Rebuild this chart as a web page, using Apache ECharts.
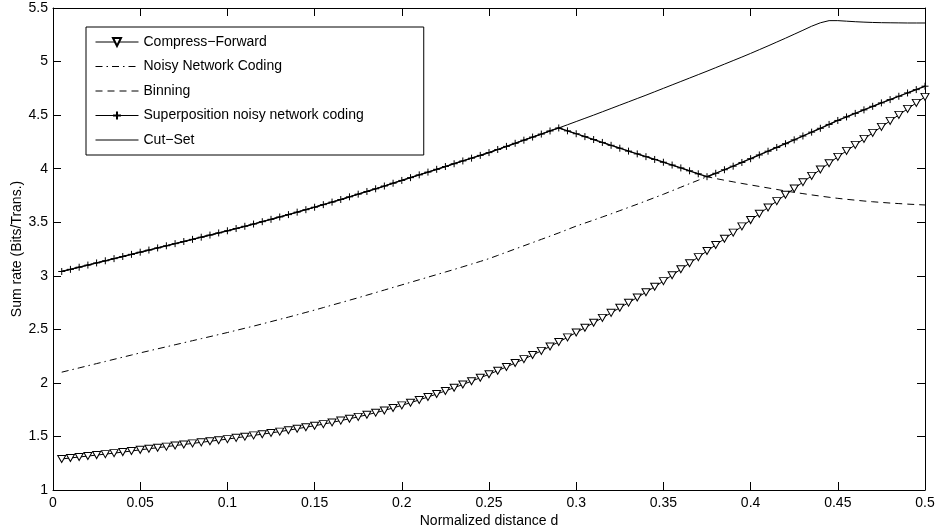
<!DOCTYPE html>
<html>
<head>
<meta charset="utf-8">
<script src="https://cdn.jsdelivr.net/npm/echarts@6/dist/echarts.min.js"></script>
<style>html,body{margin:0;padding:0;background:#fff}#c{width:937px;height:531px}</style>
</head>
<body>
<div id="c"></div>
<script>
const dist = [0.005,0.01,0.015,0.02,0.025,0.03,0.035,0.04,0.045,0.05,
0.055,0.06,0.065,0.07,0.075,0.08,0.085,0.09,0.095,0.1,
0.105,0.11,0.115,0.12,0.125,0.13,0.135,0.14,0.145,0.15,
0.155,0.16,0.165,0.17,0.175,0.18,0.185,0.19,0.195,0.2,
0.205,0.21,0.215,0.22,0.225,0.23,0.235,0.24,0.245,0.25,
0.255,0.26,0.265,0.27,0.275,0.28,0.285,0.29,0.295,0.3,
0.305,0.31,0.315,0.32,0.325,0.33,0.335,0.34,0.345,0.35,
0.355,0.36,0.365,0.37,0.375,0.38,0.385,0.39,0.395,0.4,
0.405,0.41,0.415,0.42,0.425,0.43,0.435,0.44,0.445,0.45,
0.455,0.46,0.465,0.47,0.475,0.48,0.485,0.49,0.495,0.5];

const compressForward = [1.290,1.299,1.308,1.317,1.326,1.335,1.344,1.354,1.364,1.375,
1.385,1.395,1.405,1.415,1.425,1.435,1.445,1.455,1.465,1.475,
1.487,1.498,1.510,1.521,1.533,1.545,1.558,1.572,1.586,1.600,
1.615,1.631,1.648,1.665,1.683,1.702,1.722,1.743,1.766,1.790,
1.815,1.841,1.868,1.896,1.925,1.955,1.985,2.016,2.048,2.080,
2.114,2.149,2.185,2.222,2.260,2.299,2.340,2.382,2.425,2.470,
2.515,2.561,2.607,2.654,2.701,2.749,2.797,2.846,2.897,2.950,
3.005,3.061,3.117,3.174,3.231,3.288,3.345,3.403,3.461,3.520,
3.579,3.638,3.697,3.756,3.815,3.874,3.933,3.992,4.051,4.110,
4.166,4.222,4.278,4.334,4.390,4.446,4.502,4.558,4.614,4.670];

// shared part (d = 0.005 .. 0.29): Cut-Set, Binning and Superposition coincide
const commonLow = [3.040,3.060,3.080,3.100,3.120,3.140,3.160,3.180,3.200,3.220,
3.240,3.260,3.280,3.300,3.320,3.340,3.360,3.380,3.400,3.420,
3.441,3.462,3.483,3.505,3.527,3.549,3.571,3.594,3.617,3.640,
3.664,3.688,3.712,3.737,3.762,3.787,3.812,3.838,3.864,3.890,
3.916,3.942,3.968,3.994,4.020,4.046,4.072,4.098,4.124,4.150,
4.179,4.208,4.237,4.266,4.295,4.323,4.352,4.380];

// d = 0.295 .. 0.375 (binning branch, also superposition)
const binningFall = [4.353,4.326,4.299,4.272,4.245,4.218,4.191,4.164,4.138,4.112,4.086,4.060,4.034,4.007,3.980,3.952,3.925];
// d = 0.38 .. 0.5
const binningTail = [3.908,3.892,3.877,3.862,3.848,3.834,3.820,3.806,3.792,3.779,3.767,3.755,3.744,3.733,3.723,3.714,3.706,3.698,3.691,3.685,3.679,3.674,3.669,3.665,3.661];
// d = 0.38 .. 0.5 (NNC branch, also superposition)
const nncHigh = [3.957,3.990,4.023,4.058,4.093,4.128,4.163,4.198,4.233,4.269,4.305,4.341,4.377,4.413,4.450,4.483,4.516,4.549,4.582,4.614,4.645,4.676,4.707,4.738,4.770];
// d = 0.005 .. 0.375
const nncLow = [2.100,2.120,2.140,2.160,2.180,2.200,2.220,2.240,2.260,2.280,
2.299,2.318,2.337,2.356,2.375,2.394,2.413,2.432,2.451,2.470,
2.490,2.510,2.530,2.551,2.572,2.593,2.614,2.636,2.658,2.680,
2.703,2.726,2.749,2.772,2.795,2.819,2.843,2.867,2.891,2.915,
2.939,2.963,2.987,3.011,3.035,3.059,3.084,3.109,3.134,3.160,
3.190,3.220,3.250,3.280,3.310,3.340,3.370,3.400,3.432,3.464,
3.492,3.520,3.549,3.578,3.608,3.638,3.668,3.699,3.730,3.761,
3.794,3.827,3.860,3.892,3.925];
// d = 0.295 .. 0.5
const cutSetHigh = [4.410,4.440,4.470,4.500,4.531,4.562,4.593,4.624,4.655,4.686,
4.718,4.750,4.782,4.814,4.846,4.878,4.910,4.943,4.976,5.009,
5.042,5.076,5.111,5.146,5.182,5.218,5.255,5.292,5.330,5.362,
5.382,5.382,5.377,5.372,5.368,5.365,5.363,5.362,5.361,5.360,5.360,5.360];

const xTicks = [0,0.05,0.1,0.15,0.2,0.25,0.3,0.35,0.4,0.45,0.5];
const yTicks = [1,1.5,2,2.5,3,3.5,4,4.5,5,5.5];
const names = ['Compress\u2212Forward', 'Noisy Network Coding', 'Binning', 'Superposition noisy network coding', 'Cut\u2212Set'];

const noisyNC = nncLow.concat(nncHigh);
const binning = commonLow.concat(binningFall, binningTail);
const superposition = commonLow.concat(binningFall, nncHigh);
const cutSet = commonLow.concat(cutSetHigh);

const pair = vals => dist.map((d, i) => [d, vals[i]]);
const FONT = '"Liberation Sans", Arial, Helvetica, sans-serif';
const hidden = {opacity: 0};

const chart = echarts.init(document.getElementById('c'), null, {renderer: 'canvas'});
const axisCommon = {
  axisLine: {show: true, onZero: false, lineStyle: {color: '#000', width: 1}},
  axisTick: {show: true, inside: true, length: 8, lineStyle: {color: '#000', width: 1}},
  splitLine: {show: false}
};
const fmt = ticks => v => { const t = ticks.find(t => Math.abs(t - v) < 1e-9); return t === undefined ? '' : String(t); };
chart.setOption({
  animation: false,
  backgroundColor: '#fff',
  grid: {left: 53, right: 12, top: 8, bottom: 41, containLabel: false, outerBoundsMode: 'none'},
  legend: {
    orient: 'vertical', left: 86, top: 27,
    itemWidth: 43, itemHeight: 10, itemGap: 10.5,
    padding: [8, 60, 8, 9],
    borderColor: '#000', borderWidth: 1, backgroundColor: '#fff',
    lineStyle: {width: 1},
    textStyle: {fontFamily: FONT, fontSize: 14, color: '#000'},
    data: [
      {name: names[0]},
      {name: names[1], itemStyle: hidden},
      {name: names[2], itemStyle: hidden},
      {name: names[3]},
      {name: names[4], itemStyle: hidden}
    ]
  },
  xAxis: [
    Object.assign({type: 'value', min: 0, max: 0.5, interval: 0.05, position: 'bottom',
      name: 'Normalized distance d', nameLocation: 'middle', nameGap: 24, nameMoveOverlap: false,
      nameTextStyle: {fontFamily: FONT, fontSize: 14, color: '#000'},
      axisLabel: {fontFamily: FONT, fontSize: 14, color: '#000', margin: 6, formatter: fmt(xTicks)}
    }, axisCommon),
    Object.assign({type: 'value', min: 0, max: 0.5, interval: 0.05, position: 'top', axisLabel: {show: false}}, axisCommon)
  ],
  yAxis: [
    Object.assign({type: 'value', min: 1, max: 5.5, interval: 0.5, position: 'left',
      name: 'Sum rate (Bits/Trans.)', nameLocation: 'middle', nameGap: 29, nameMoveOverlap: false,
      nameTextStyle: {fontFamily: FONT, fontSize: 14, color: '#000'},
      axisLabel: {fontFamily: FONT, fontSize: 14, color: '#000', margin: 5, formatter: fmt(yTicks)}
    }, axisCommon),
    Object.assign({type: 'value', min: 1, max: 5.5, interval: 0.5, position: 'right', axisLabel: {show: false}}, axisCommon)
  ],
  series: [
    {
      name: names[0], type: 'line', data: pair(compressForward),
      symbol: 'triangle', symbolRotate: 180, symbolSize: [8, 7], showSymbol: true, showAllSymbol: true,
      lineStyle: {color: '#000', width: 1},
      itemStyle: {color: '#fff', borderColor: '#000', borderWidth: 1},
      z: 2
    },
    {
      name: names[1], type: 'line', data: pair(noisyNC), symbol: 'none',
      lineStyle: {color: '#000', width: 1, type: [7, 4, 1.5, 4]}, itemStyle: {color: '#000'}, z: 3
    },
    {
      name: names[2], type: 'line', data: pair(binning), symbol: 'none',
      lineStyle: {color: '#000', width: 1, type: [7, 5]}, itemStyle: {color: '#000'}, z: 4
    },
    {
      name: names[3], type: 'line', data: pair(superposition),
      symbol: 'path://M0,-1L0,1M-1,0L1,0', symbolSize: 7, showSymbol: true, showAllSymbol: true,
      lineStyle: {color: '#000', width: 1.3},
      itemStyle: {color: 'none', borderColor: '#000', borderWidth: 1},
      z: 5
    },
    {
      name: names[4], type: 'line', data: pair(cutSet), symbol: 'none',
      lineStyle: {color: '#000', width: 1}, itemStyle: {color: '#000'}, z: 6
    }
  ]
});
</script>
</body>
</html>
